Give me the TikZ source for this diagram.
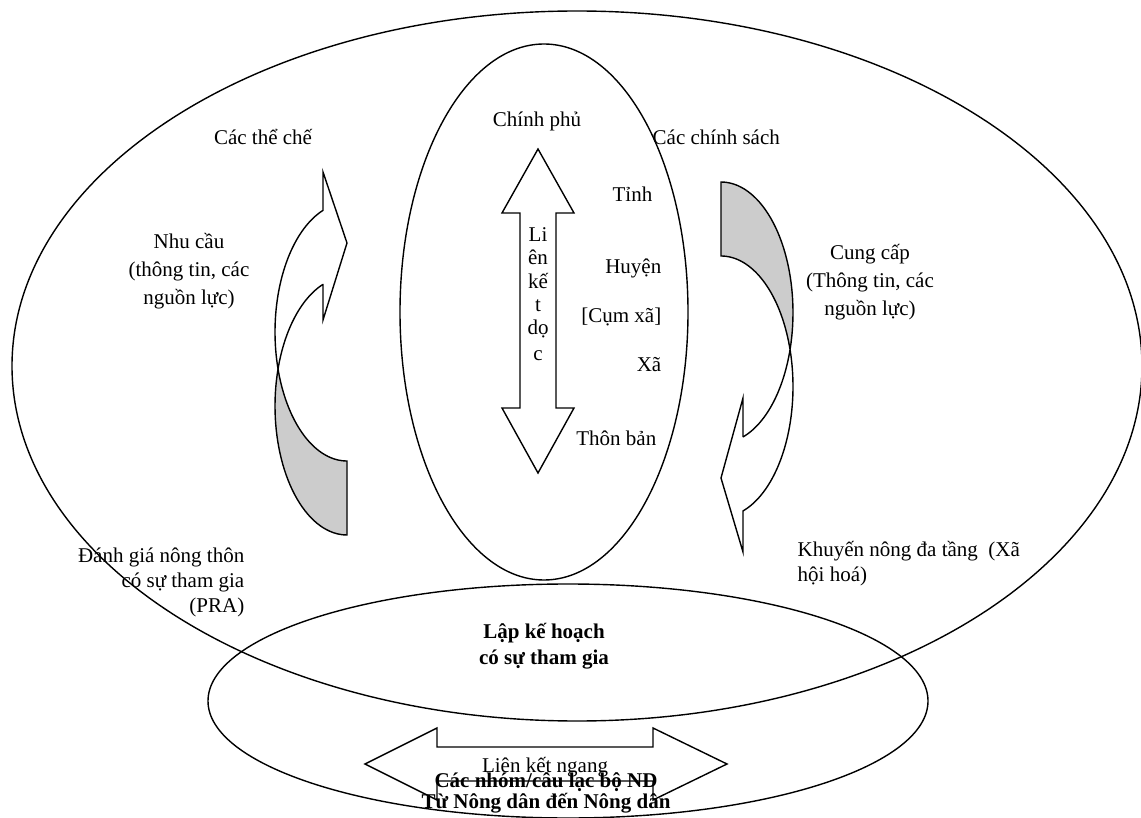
\documentclass[tikz,border=0pt]{standalone}
\usepackage{fontspec}
\setmainfont{Liberation Serif}
\usetikzlibrary{shapes.geometric}
\definecolor{shade}{RGB}{204,204,204}
\begin{document}
\begin{tikzpicture}[x=1pt,y=-1pt,line width=1.4pt,line join=miter,
  txt/.style={inner sep=0pt,font=\fontsize{21}{25}\selectfont,anchor=base},
  txtl/.style={txt,anchor=base west},
  txtr/.style={txt,anchor=base east},
  btxt/.style={txt,font=\fontsize{21}{25}\selectfont\bfseries},
  oval/.style={draw,ellipse,inner sep=0pt}]
\useasboundingbox (0,0) rectangle (1141,818);
% ellipses
\node[oval,minimum width=1130pt,minimum height=710pt] (big) at (577,366) {};
\node[oval,minimum width=288pt,minimum height=536pt] (mid) at (544,312) {};
\node[oval,minimum width=720pt,minimum height=234pt] (low) at (568,701) {};
% left curved arrow (back strip, shaded)
\filldraw[fill=shade] plot[domain=90:196.7,samples=40,variable=\t] ({347+72*cos(\t)},{406+129*sin(\t)})
  -- plot[domain=163.3:90,samples=40,variable=\t] ({347+72*cos(\t)},{332+129*sin(\t)}) -- cycle;
% left curved arrow (front strip)
\filldraw[fill=white] plot[domain=163.3:250.5,samples=40,variable=\t] ({347+72*cos(\t)},{332+129*sin(\t)})
  -- (323,172) -- (347,243) -- (323,320) -- (323,284)
  -- plot[domain=250.5:196.7,samples=40,variable=\t] ({347+72*cos(\t)},{406+129*sin(\t)}) -- cycle;
% right curved arrow (back strip, shaded)
\filldraw[fill=shade] plot[domain=-90:16.5,samples=40,variable=\t] ({721+72*cos(\t)},{312.6+130.6*sin(\t)})
  -- plot[domain=-16.5:-90,samples=40,variable=\t] ({721+72*cos(\t)},{386.6+130.6*sin(\t)}) -- cycle;
% right curved arrow (front strip)
\filldraw[fill=white] plot[domain=-16.5:72.2,samples=40,variable=\t] ({721+72*cos(\t)},{386.6+130.6*sin(\t)})
  -- (743,552) -- (721,478) -- (743,398) -- (743,437)
  -- plot[domain=72.2:16.5,samples=40,variable=\t] ({721+72*cos(\t)},{312.6+130.6*sin(\t)}) -- cycle;
% vertical double arrow
\filldraw[fill=white] (538,149) -- (574,213) -- (556,213) -- (556,408) -- (574,408) -- (538,473)
  -- (502,408) -- (520,408) -- (520,213) -- (502,213) -- cycle;
% horizontal double arrow
\draw (365,764) -- (437,728) -- (437,747) -- (653,747) -- (653,728) -- (727,764)
  -- (653,800) -- (653,781) -- (437,781) -- (437,800) -- cycle;
% texts in vertical arrow
\node[txt] (v1) at (538,242) {Li};
\node[txt] (v2) at (538,265) {ên};
\node[txt] (v3) at (538,289) {kế};
\node[txt] (v4) at (538,312) {t};
\node[txt] (v5) at (538,335) {dọ};
\node[txt] (v6) at (538,360) {c};
% levels
\node[txt] (cp) at (537,127) {Chính phủ};
\node[txtr] (tinh) at (653,202) {Tỉnh};
\node[txtr] (huyen) at (662,274) {Huyện};
\node[txtr] (cum) at (662,323) {[Cụm xã]};
\node[txtr] (xa) at (662,372) {Xã};
\node[txtr] (thon) at (657,445) {Thôn bản};
% top labels
\node[txt] (tc) at (263,145) {Các thể chế};
\node[txtl] (cs) at (652,145) {Các chính sách};
% left block
\node[txt] (n1) at (189,249) {Nhu cầu};
\node[txt] (n2) at (189,277) {(thông tin, các};
\node[txt] (n3) at (189,305) {nguồn lực)};
% right block
\node[txt] (c1) at (870,260) {Cung cấp};
\node[txt] (c2) at (870,288) {(Thông tin, các};
\node[txt] (c3) at (870,316) {nguồn lực)};
% PRA
\node[txtr] (p1) at (245,562) {Đánh giá nông thôn};
\node[txtr] (p2) at (245,587) {có sự tham gia};
\node[txtr] (p3) at (245,612) {(PRA)};
% khuyen nong
\node[txtl] (k1) at (797,556) {Khuyến nông đa tầng\ \ (Xã};
\node[txtl] (k2) at (797,581) {hội hoá)};
% planning
\node[btxt] (l1) at (544,638) {Lập kế hoạch};
\node[btxt] (l2) at (544,664) {có sự tham gia};
% bottom
\node[txt] (lk) at (545,772) {Liên kết ngang};
\node[btxt] (g1) at (546,787) {Các nhóm/câu lạc bộ ND};
\node[btxt] (g2) at (546,808) {Từ Nông dân đến Nông dân};
\end{tikzpicture}
\end{document}
